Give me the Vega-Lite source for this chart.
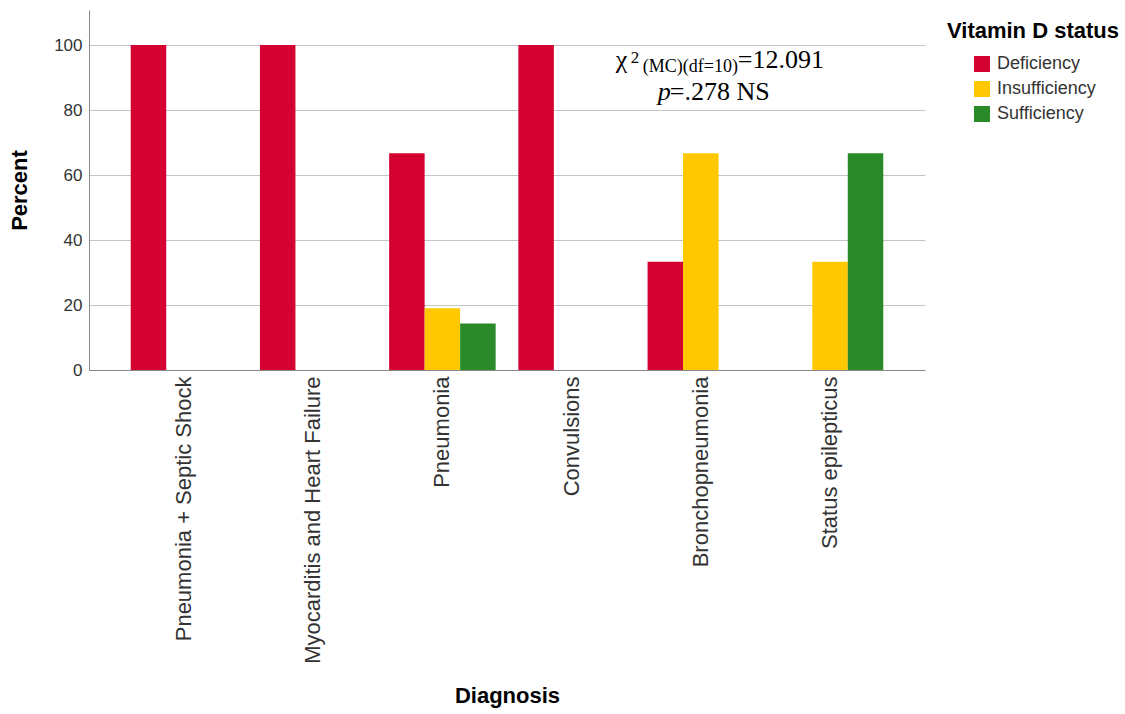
{
  "$schema": "https://vega.github.io/schema/vega-lite/v6.json",
  "width": 836,
  "height": 360,
  "autosize": "none",
  "padding": {"left": 89, "top": 10, "right": 200, "bottom": 344},
  "background": "white",
  "config": {
    "view": {"stroke": null},
    "font": "Liberation Sans",
    "axis": {"labelFont": "Liberation Sans", "titleFont": "Liberation Sans", "labelColor": "#333333", "titleColor": "#000000"}
  },
  "data": {
    "values": [
      {"Diagnosis": "Pneumonia + Septic Shock", "Status": "Deficiency", "Percent": 100},
      {"Diagnosis": "Pneumonia + Septic Shock", "Status": "Insufficiency", "Percent": 0},
      {"Diagnosis": "Pneumonia + Septic Shock", "Status": "Sufficiency", "Percent": 0},
      {"Diagnosis": "Myocarditis and Heart Failure", "Status": "Deficiency", "Percent": 100},
      {"Diagnosis": "Myocarditis and Heart Failure", "Status": "Insufficiency", "Percent": 0},
      {"Diagnosis": "Myocarditis and Heart Failure", "Status": "Sufficiency", "Percent": 0},
      {"Diagnosis": "Pneumonia", "Status": "Deficiency", "Percent": 66.7},
      {"Diagnosis": "Pneumonia", "Status": "Insufficiency", "Percent": 19.0},
      {"Diagnosis": "Pneumonia", "Status": "Sufficiency", "Percent": 14.3},
      {"Diagnosis": "Convulsions", "Status": "Deficiency", "Percent": 100},
      {"Diagnosis": "Convulsions", "Status": "Insufficiency", "Percent": 0},
      {"Diagnosis": "Convulsions", "Status": "Sufficiency", "Percent": 0},
      {"Diagnosis": "Bronchopneumonia", "Status": "Deficiency", "Percent": 33.3},
      {"Diagnosis": "Bronchopneumonia", "Status": "Insufficiency", "Percent": 66.7},
      {"Diagnosis": "Bronchopneumonia", "Status": "Sufficiency", "Percent": 0},
      {"Diagnosis": "Status epilepticus", "Status": "Deficiency", "Percent": 0},
      {"Diagnosis": "Status epilepticus", "Status": "Insufficiency", "Percent": 33.3},
      {"Diagnosis": "Status epilepticus", "Status": "Sufficiency", "Percent": 66.7}
    ]
  },
  "encoding": {
    "x": {
      "field": "Diagnosis", "type": "nominal",
      "sort": ["Pneumonia + Septic Shock", "Myocarditis and Heart Failure", "Pneumonia", "Convulsions", "Bronchopneumonia", "Status epilepticus"],
      "scale": {"paddingInner": 0, "paddingOuter": 0.235},
      "axis": {
        "title": "Diagnosis", "titleFontSize": 22, "titleFontWeight": "bold", "titleY": 315,
        "labelAngle": -90, "labelFontSize": 22, "labelPadding": 6, "labelLimit": 400,
        "ticks": false, "domainColor": "#888888", "grid": false
      }
    },
    "y": {
      "field": "Percent", "type": "quantitative",
      "scale": {"domain": [0, 110.8], "nice": false},
      "axis": {
        "title": "Percent", "titleFontSize": 22, "titleFontWeight": "bold", "titlePadding": 22,
        "values": [0, 20, 40, 60, 80, 100], "labelFontSize": 17, "labelPadding": 7,
        "ticks": false, "domainColor": "#888888", "grid": true, "gridColor": "#C4C4C4"
      }
    }
  },
  "layer": [
    {
      "mark": {"type": "bar"},
      "encoding": {
        "xOffset": {"field": "Status", "type": "nominal", "scale": {"paddingInner": 0, "paddingOuter": 0.32}},
        "color": {
          "field": "Status", "type": "nominal",
          "scale": {"domain": ["Deficiency", "Insufficiency", "Sufficiency"], "range": ["#D40032", "#FFC800", "#2A8A2A"]},
          "legend": {
            "title": "Vitamin D status", "orient": "none", "legendX": 858, "legendY": 11,
            "titleFontSize": 22, "titleFontWeight": "bold", "titleColor": "#000000", "titlePadding": 12,
            "symbolType": "square", "symbolSize": 256, "symbolStrokeWidth": 0, "symbolOpacity": 1,
            "symbolOffset": 26, "labelFontSize": 18, "labelOffset": 6, "rowPadding": 7, "labelColor": "#333333"
          }
        }
      }
    },
    {
      "data": {"values": [{"Diagnosis": "Bronchopneumonia", "Percent": 92.9, "t": "χ"}]},
      "mark": {"type": "text", "font": "Liberation Serif", "fontSize": 26, "align": "left", "baseline": "alphabetic", "dx": -85, "color": "#000000"},
      "encoding": {"text": {"field": "t"}}
    },
    {
      "data": {"values": [{"Diagnosis": "Bronchopneumonia", "Percent": 92.9, "t": "2"}]},
      "mark": {"type": "text", "font": "Liberation Serif", "fontSize": 17, "align": "left", "baseline": "alphabetic", "dx": -70, "dy": -5, "color": "#000000"},
      "encoding": {"text": {"field": "t"}}
    },
    {
      "data": {"values": [{"Diagnosis": "Bronchopneumonia", "Percent": 92.9, "t": "(MC)(df=10)"}]},
      "mark": {"type": "text", "font": "Liberation Serif", "fontSize": 18, "align": "left", "baseline": "alphabetic", "dx": -58, "dy": 4, "color": "#000000"},
      "encoding": {"text": {"field": "t"}}
    },
    {
      "data": {"values": [{"Diagnosis": "Bronchopneumonia", "Percent": 92.9, "t": "=12.091"}]},
      "mark": {"type": "text", "font": "Liberation Serif", "fontSize": 26, "align": "left", "baseline": "alphabetic", "dx": 37, "color": "#000000"},
      "encoding": {"text": {"field": "t"}}
    },
    {
      "data": {"values": [{"Diagnosis": "Bronchopneumonia", "Percent": 83.1, "t": "p"}]},
      "mark": {"type": "text", "font": "Liberation Serif", "fontSize": 26, "fontStyle": "italic", "align": "left", "baseline": "alphabetic", "dx": -43, "color": "#000000"},
      "encoding": {"text": {"field": "t"}}
    },
    {
      "data": {"values": [{"Diagnosis": "Bronchopneumonia", "Percent": 83.1, "t": "=.278 NS"}]},
      "mark": {"type": "text", "font": "Liberation Serif", "fontSize": 26, "align": "left", "baseline": "alphabetic", "dx": -31, "color": "#000000"},
      "encoding": {"text": {"field": "t"}}
    }
  ]
}
